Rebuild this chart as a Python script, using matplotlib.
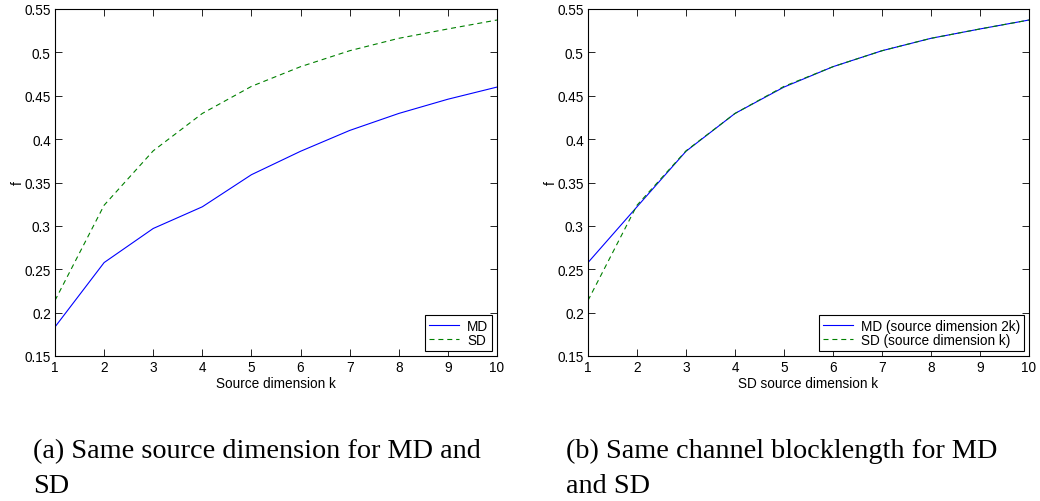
import matplotlib
matplotlib.use("Agg")
import matplotlib.pyplot as plt

# Source dimension k
k = [1, 2, 3, 4, 5, 6, 7, 8, 9, 10]

# (a) same source dimension
f_md_a = [0.1835, 0.2577, 0.297, 0.322, 0.359, 0.386, 0.410, 0.4296, 0.446, 0.460]
f_sd_a = [0.214, 0.3238, 0.3865, 0.4296, 0.4608, 0.4835, 0.5019, 0.5162, 0.527, 0.5373]

# (b) same channel blocklength: MD uses source dimension 2k
f_md_b = [0.2577, 0.322, 0.386, 0.4296, 0.460, 0.4835, 0.5019, 0.5162, 0.527, 0.5373]
f_sd_b = f_sd_a

xticks = [1, 2, 3, 4, 5, 6, 7, 8, 9, 10]
yticks = [0.15, 0.2, 0.25, 0.3, 0.35, 0.4, 0.45, 0.5, 0.55]
ytick_labels = ["0.15", "0.2", "0.25", "0.3", "0.35", "0.4", "0.45", "0.5", "0.55"]

W, H = 1040, 502
fig = plt.figure(figsize=(W / 100, H / 100), dpi=100)

sans = ["Liberation Sans", "DejaVu Sans"]
serif = ["Liberation Serif", "DejaVu Serif"]
fs = 9.8


def px_axes(x0, x1, y0, y1):
    return fig.add_axes([x0 / W, 1 - y1 / H, (x1 - x0) / W, (y1 - y0) / H])


def style(ax, xlabel, md, sd, labels):
    ax.plot(k, md, color=(0, 0, 1), lw=0.8, label=labels[0])
    ax.plot(k, sd, color=(0, 0.5, 0), lw=0.8, ls=(0, (4.5, 3.5)), label=labels[1])
    ax.set_xlim(1, 10)
    ax.set_ylim(0.15, 0.55)
    ax.set_xticks(xticks)
    ax.set_yticks(yticks)
    ax.set_yticklabels(ytick_labels)
    ax.tick_params(direction="in", length=5, width=0.6, top=True, right=True,
                   labelsize=fs, pad=3, colors="black")
    for lab in ax.get_xticklabels() + ax.get_yticklabels():
        lab.set_fontfamily(sans)
    for sp in ax.spines.values():
        sp.set_linewidth(0.8)
    ax.set_xlabel(xlabel, fontsize=fs, family=sans, labelpad=1)
    ax.set_ylabel("f", fontsize=fs, family=sans, labelpad=0)
    leg = ax.legend(loc="lower right", prop={"family": sans, "size": fs},
                    frameon=True, fancybox=False, framealpha=1,
                    edgecolor="black", handlelength=2.2, handletextpad=0.6,
                    borderpad=0.3, labelspacing=0.0, borderaxespad=0.35)
    leg.get_frame().set_linewidth(0.8)


ax1 = px_axes(55, 497, 10, 357)
style(ax1, "Source dimension k", f_md_a, f_sd_a, ["MD", "SD"])

ax2 = px_axes(588, 1029, 10, 357)
style(ax2, "SD source dimension k", f_md_b, f_sd_b,
      ["MD (source dimension 2k)", "SD (source dimension k)"])

cap_fs = 20.3
fig.text(33 / W, 1 - 458 / H, "(a) Same source dimension for MD and",
         family=serif, fontsize=cap_fs, va="baseline", ha="left")
fig.text(33 / W, 1 - 493 / H, "SD",
         family=serif, fontsize=cap_fs, va="baseline", ha="left")
fig.text(566 / W, 1 - 458 / H, "(b) Same channel blocklength for MD",
         family=serif, fontsize=cap_fs, va="baseline", ha="left")
fig.text(566 / W, 1 - 493 / H, "and SD",
         family=serif, fontsize=cap_fs, va="baseline", ha="left")

fig.savefig("out.png", dpi=100)
